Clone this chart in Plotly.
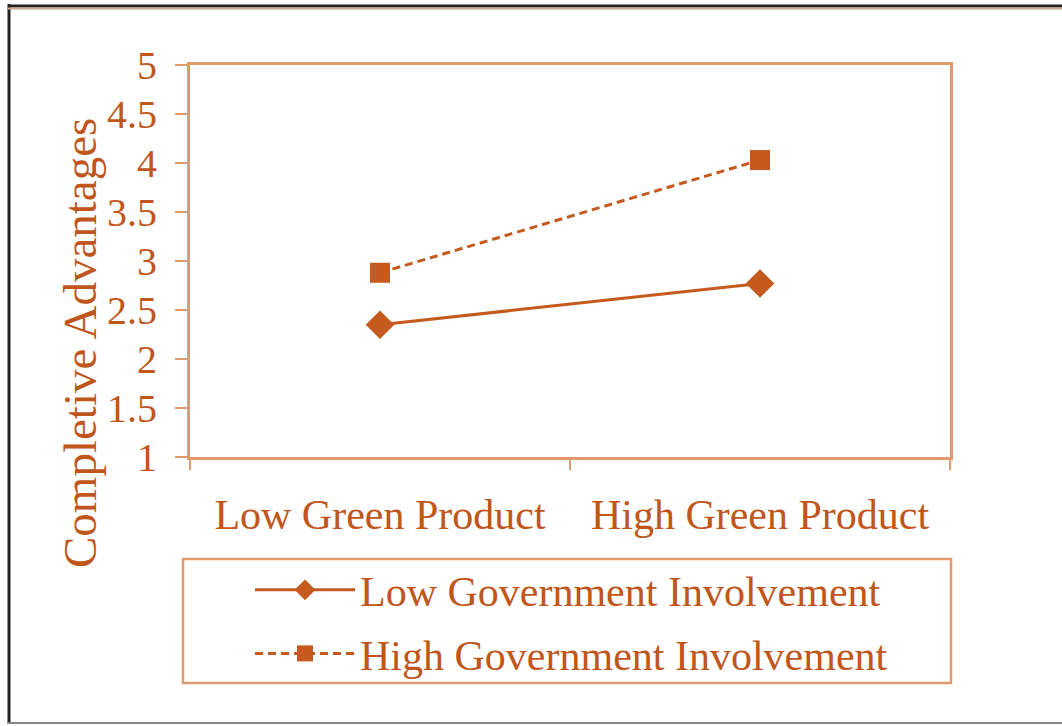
import plotly.graph_objects as go

categories = ["Low Green Product", "High Green Product"]
series_names = ["Low Government Involvement", "High Government Involvement"]
low_gov = [2.35, 2.77]
high_gov = [2.88, 4.03]
y_ticks = [1, 1.5, 2, 2.5, 3, 3.5, 4, 4.5, 5]
y_tick_labels = ["1", "1.5", "2", "2.5", "3", "3.5", "4", "4.5", "5"]

W, H = 1062, 726
L, R, T, B = 190, 950, 65, 457  # plot area in px

def px(x):
    return (x - L) / (R - L)

def py(y):
    return (B - y) / (B - T)

TXT = "#C0561C"
LINE = "#C55A1E"
AX = "#E09A6C"
FONT = "Liberation Serif"

fig = go.Figure()
fig.add_trace(go.Scatter(
    x=categories, y=low_gov, name=series_names[0], mode="lines+markers",
    line=dict(color=LINE, width=3),
    marker=dict(symbol="diamond", size=22, color=LINE),
    legendgroup="a",
))
fig.add_trace(go.Scatter(
    x=categories, y=high_gov, name=series_names[1], mode="lines+markers",
    line=dict(color=LINE, width=3, dash="8px,5px"),
    marker=dict(symbol="square", size=20, color=LINE),
    legendgroup="b",
))

shapes = [
    # legend box
    dict(type="rect", xref="paper", yref="paper", layer="above",
         x0=px(183), x1=px(951), y0=py(683), y1=py(559),
         fillcolor="white", line=dict(color=AX, width=2.5)),
    # outer frame
    dict(type="line", xref="paper", yref="paper", layer="above",
         x0=px(9), x1=px(9), y0=py(4), y1=py(724), line=dict(color="#222", width=3)),
    dict(type="line", xref="paper", yref="paper", layer="above",
         x0=px(8), x1=px(1062), y0=py(6), y1=py(6), line=dict(color="#222", width=3)),
    dict(type="line", xref="paper", yref="paper", layer="above",
         x0=px(8), x1=px(1062), y0=py(8.5), y1=py(8.5), line=dict(color="#c8a890", width=2)),
    dict(type="line", xref="paper", yref="paper", layer="above",
         x0=px(8), x1=px(1062), y0=py(723), y1=py(723), line=dict(color="#888", width=2)),
]

fig.update_layout(
    width=W, height=H,
    margin=dict(l=L, r=W - R, t=T, b=H - B, pad=0),
    paper_bgcolor="white", plot_bgcolor="white",
    font=dict(family=FONT, color=TXT),
    shapes=shapes,
    showlegend=True,
    legend=dict(
        x=px(250), y=py(556), xanchor="left", yanchor="top",
        bgcolor="rgba(0,0,0,0)", borderwidth=0,
        font=dict(family=FONT, size=42, color=TXT),
        itemwidth=100, traceorder="grouped", tracegroupgap=6,
    ),
    annotations=[dict(
        text="Completive Advantages", textangle=-90, showarrow=False,
        xref="paper", yref="paper", x=px(80), y=py(343),
        xanchor="center", yanchor="middle",
        font=dict(family=FONT, size=47, color=TXT),
    )],
)

fig.update_xaxes(
    type="category", range=[-0.5, 1.5],
    showline=True, linecolor=AX, linewidth=3, mirror=True,
    ticks="outside", tickson="boundaries", ticklen=10, tickwidth=2, tickcolor=AX,
    tickfont=dict(family=FONT, size=42, color=TXT),
    ticklabelstandoff=19,
    showgrid=False, zeroline=False,
)
fig.update_yaxes(
    range=[1, 5], tickvals=y_ticks, ticktext=y_tick_labels,
    showline=True, linecolor=AX, linewidth=3, mirror=True,
    ticks="outside", ticklen=12, tickwidth=2, tickcolor=AX,
    tickfont=dict(family=FONT, size=40, color=TXT),
    ticklabelstandoff=10,
    showgrid=False, zeroline=False,
)

fig.write_html("out.html")
